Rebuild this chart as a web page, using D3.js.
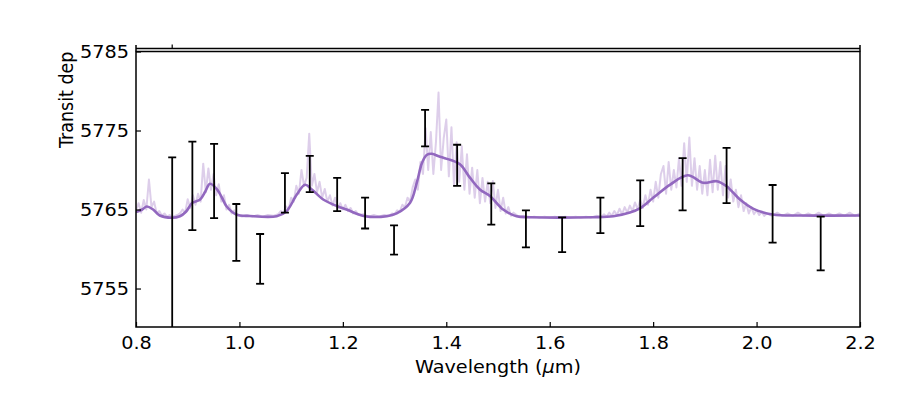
<!DOCTYPE html>
<html>
<head>
<meta charset="utf-8">
<script src="https://cdnjs.cloudflare.com/ajax/libs/d3/7.8.5/d3.min.js"></script>
<style>
  body { margin: 0; background: #fff; }
  text { font-family: "DejaVu Sans", sans-serif; fill: #000; }
</style>
</head>
<body>
<svg width="916" height="404"></svg>
<script>
/*
  transmission spectrum
  - light, noisy high-res model
  - smoothed model
  - binned data with error bars
*/

// binned data points
var binWave  = [0.870, 0.909, 0.951, 0.994, 1.040, 1.088, 1.136, 1.189, 1.243, 1.299, 1.359,
                1.421, 1.487, 1.554, 1.624, 1.698, 1.775, 1.857, 1.942, 2.031, 2.124];
var binDepth = [5758.3, 5768.0, 5768.6, 5762.1, 5758.75, 5767.1, 5769.5, 5766.9, 5764.55, 5761.15, 5775.3,
                5770.6, 5765.7, 5762.55, 5761.8, 5764.25, 5765.8, 5768.2, 5769.3, 5764.45, 5760.7];
var binErr   = [13.3, 5.6, 4.7, 3.6, 3.15, 2.5, 2.3, 2.1, 1.95, 1.85, 2.3,
                2.6, 2.6, 2.35, 2.2, 2.25, 2.9, 3.3, 3.5, 3.65, 3.4];

// smoothed model [wavelength, depth]
var model = [
  [0.800, 5764.68], [0.812, 5765.0], [0.821, 5765.38], [0.833, 5765.0], [0.846, 5764.24],
  [0.869, 5763.95], [0.885, 5764.15], [0.897, 5764.75], [0.909, 5765.85], [0.924, 5766.27],
  [0.934, 5767.28], [0.943, 5768.25], [0.957, 5767.53], [0.966, 5766.52], [0.975, 5765.42],
  [0.994, 5764.37], [1.020, 5764.18], [1.072, 5764.15], [1.091, 5764.78], [1.111, 5766.9],
  [1.127, 5768.13], [1.140, 5767.53], [1.162, 5766.27], [1.189, 5765.42], [1.207, 5765.0],
  [1.243, 5764.15], [1.285, 5764.15], [1.304, 5764.5], [1.330, 5765.85], [1.343, 5768.4],
  [1.353, 5770.9], [1.362, 5771.9], [1.372, 5772.05], [1.388, 5771.67], [1.410, 5771.24],
  [1.427, 5770.7], [1.446, 5769.0], [1.465, 5767.53], [1.485, 5766.68], [1.510, 5765.0],
  [1.536, 5764.15], [1.562, 5764.03], [1.684, 5764.03], [1.723, 5764.15], [1.755, 5764.62],
  [1.776, 5765.22], [1.800, 5766.48], [1.833, 5768.16], [1.867, 5769.34], [1.897, 5768.38],
  [1.923, 5768.58], [1.942, 5767.95], [1.968, 5766.27], [1.994, 5765.09], [2.031, 5764.37],
  [2.084, 5764.24], [2.200, 5764.24]
];

// high resolution model [wavelength, depth]
var spectrum = [
  [0.800, 5764.9], [0.805, 5765.8], [0.810, 5764.6], [0.815, 5766.2], [0.820, 5765.0], [0.825, 5768.8],
  [0.830, 5765.3], [0.835, 5766.0], [0.840, 5764.5], [0.845, 5764.8], [0.850, 5764.2], [0.855, 5764.5],
  [0.860, 5764.1], [0.865, 5764.3], [0.870, 5764.0], [0.875, 5764.2], [0.880, 5764.3], [0.885, 5764.5],
  [0.890, 5765.0], [0.895, 5764.6], [0.900, 5766.3], [0.905, 5765.2], [0.910, 5766.8], [0.915, 5765.6],
  [0.920, 5767.0], [0.925, 5766.0], [0.930, 5770.8], [0.935, 5767.2], [0.940, 5770.2], [0.945, 5767.5],
  [0.950, 5769.5], [0.955, 5766.8], [0.960, 5768.2], [0.965, 5766.0], [0.970, 5766.8], [0.975, 5765.0],
  [0.980, 5765.6], [0.985, 5764.5], [0.990, 5764.9], [0.995, 5764.3], [1.005, 5764.1], [1.015, 5764.3],
  [1.025, 5764.1], [1.035, 5764.3], [1.045, 5764.1], [1.055, 5764.3], [1.065, 5764.2], [1.075, 5764.4],
  [1.080, 5764.8], [1.085, 5764.5], [1.090, 5765.4], [1.095, 5765.0], [1.100, 5766.5], [1.105, 5766.0],
  [1.110, 5768.0], [1.115, 5767.0], [1.120, 5770.0], [1.125, 5768.0], [1.130, 5769.0], [1.135, 5774.6],
  [1.140, 5768.0], [1.145, 5769.5], [1.150, 5767.2], [1.155, 5768.5], [1.160, 5766.5], [1.165, 5767.6],
  [1.170, 5766.0], [1.175, 5766.8], [1.180, 5765.5], [1.185, 5766.5], [1.190, 5765.2], [1.195, 5765.8],
  [1.200, 5765.0], [1.205, 5765.6], [1.210, 5764.8], [1.215, 5765.2], [1.220, 5764.5], [1.225, 5764.8],
  [1.230, 5764.3], [1.240, 5764.4], [1.250, 5764.1], [1.260, 5764.3], [1.270, 5764.1], [1.280, 5764.3],
  [1.290, 5764.2], [1.295, 5764.5], [1.300, 5764.4], [1.305, 5764.9], [1.310, 5764.7], [1.315, 5765.6],
  [1.320, 5765.3], [1.325, 5766.5], [1.330, 5766.0], [1.335, 5767.8], [1.340, 5768.8], [1.345, 5767.5],
  [1.350, 5771.0], [1.355, 5769.5], [1.360, 5775.3], [1.365, 5770.0], [1.370, 5774.8], [1.375, 5769.5],
  [1.380, 5773.5], [1.385, 5779.8], [1.390, 5770.0], [1.395, 5774.0], [1.400, 5776.4], [1.405, 5769.2],
  [1.410, 5775.4], [1.415, 5768.0], [1.420, 5773.5], [1.425, 5768.5], [1.430, 5773.0], [1.435, 5767.5],
  [1.440, 5772.0], [1.445, 5767.0], [1.450, 5770.3], [1.455, 5766.5], [1.460, 5770.0], [1.465, 5765.8],
  [1.470, 5769.0], [1.475, 5766.0], [1.480, 5768.5], [1.485, 5765.8], [1.490, 5768.6], [1.495, 5765.2],
  [1.500, 5767.5], [1.505, 5764.8], [1.510, 5766.5], [1.515, 5764.5], [1.520, 5765.3], [1.525, 5764.2],
  [1.530, 5764.6], [1.540, 5764.1], [1.550, 5764.2], [1.560, 5764.0], [1.570, 5764.1], [1.580, 5764.0],
  [1.590, 5764.1], [1.600, 5764.0], [1.610, 5764.1], [1.620, 5764.0], [1.630, 5764.1], [1.640, 5764.0],
  [1.650, 5764.1], [1.660, 5764.0], [1.670, 5764.1], [1.680, 5764.0], [1.690, 5764.2], [1.700, 5764.1],
  [1.705, 5764.4], [1.710, 5764.1], [1.715, 5764.6], [1.720, 5764.2], [1.725, 5764.8], [1.730, 5764.3],
  [1.735, 5765.1], [1.740, 5764.4], [1.745, 5765.3], [1.750, 5764.6], [1.755, 5765.5], [1.760, 5764.8],
  [1.765, 5765.9], [1.770, 5765.0], [1.775, 5766.2], [1.780, 5765.2], [1.785, 5766.8], [1.790, 5765.6],
  [1.795, 5767.5], [1.800, 5766.0], [1.805, 5768.5], [1.810, 5766.5], [1.815, 5769.5], [1.820, 5770.5],
  [1.825, 5767.0], [1.830, 5771.0], [1.835, 5767.5], [1.840, 5770.0], [1.845, 5767.8], [1.850, 5771.5],
  [1.855, 5768.0], [1.860, 5773.4], [1.865, 5768.5], [1.870, 5774.1], [1.875, 5768.0], [1.880, 5771.5],
  [1.885, 5767.5], [1.890, 5770.5], [1.895, 5767.0], [1.900, 5770.0], [1.905, 5766.8], [1.910, 5771.3],
  [1.915, 5767.2], [1.920, 5771.8], [1.925, 5767.5], [1.930, 5771.0], [1.935, 5766.8], [1.940, 5770.5],
  [1.945, 5766.5], [1.950, 5768.8], [1.955, 5766.0], [1.960, 5767.5], [1.965, 5765.3], [1.970, 5766.8],
  [1.975, 5764.8], [1.980, 5765.8], [1.985, 5764.5], [1.990, 5765.3], [1.995, 5764.4], [2.000, 5764.9],
  [2.005, 5764.3], [2.010, 5764.7], [2.015, 5764.2], [2.020, 5764.5], [2.030, 5764.2], [2.040, 5764.6],
  [2.050, 5764.2], [2.060, 5764.5], [2.070, 5764.2], [2.080, 5764.6], [2.090, 5764.2], [2.100, 5764.5],
  [2.110, 5764.2], [2.120, 5764.6], [2.130, 5764.2], [2.140, 5764.5], [2.150, 5764.2], [2.160, 5764.5],
  [2.170, 5764.2], [2.180, 5764.6], [2.190, 5764.2], [2.200, 5764.5]
];

var xTicks = [0.8, 1.0, 1.2, 1.4, 1.6, 1.8, 2.0, 2.2];
var yTicks = [5755, 5765, 5775, 5785];

var svg = d3.select("svg"),
    margin = {top: 51.5, right: 56, bottom: 77, left: 136},
    width = svg.attr("width") - margin.left - margin.right,
    height = svg.attr("height") - margin.top - margin.bottom,
    chartGroup = svg.append("g").attr("transform", "translate(" + margin.left + "," + margin.top + ")");

var stretch = "scale(1.1,1)";   // text in the original is slightly wide

var xScale = d3.scaleLinear()
    .domain([0.8, 2.2])
    .range([0, width]);
var yScale = d3.scaleLinear()
    .domain([5750.13, 5785])
    .range([height, 0]);

chartGroup.append("clipPath")
    .attr("id", "plot-clip")
  .append("rect")
    .attr("width", width)
    .attr("height", height);

var plot = chartGroup.append("g").attr("clip-path", "url(#plot-clip)");

var line = d3.line()
    .x(function(d) { return xScale(d[0]); })
    .y(function(d) { return yScale(d[1]); });

// noisy high-res spectrum
plot.append("path")
    .datum(spectrum)
    .attr("d", line)
    .style("fill", "none")
    .style("stroke", "#9467bd")
    .style("stroke-opacity", 0.32)
    .style("stroke-width", 2)
    .style("stroke-linejoin", "round");

// smoothed model
plot.append("path")
    .datum(model)
    .attr("d", line.curve(d3.curveCatmullRom.alpha(0.5)))
    .style("fill", "none")
    .style("stroke", "#9268bf")
    .style("stroke-width", 2.6);

// error bars
var bins = binWave.map(function(w, i) { return {w: w, d: binDepth[i], e: binErr[i]}; });
var bar = plot.selectAll(".bin")
    .data(bins)
    .enter().append("g")
    .attr("class", "bin")
    .style("stroke", "#000")
    .style("stroke-width", 1.8);

bar.append("line")
    .attr("x1", function(d) { return xScale(d.w); })
    .attr("x2", function(d) { return xScale(d.w); })
    .attr("y1", function(d) { return yScale(d.d - d.e); })
    .attr("y2", function(d) { return yScale(d.d + d.e); });

[-1, 1].forEach(function(s) {
  bar.append("line")
      .attr("x1", function(d) { return xScale(d.w) - 4; })
      .attr("x2", function(d) { return xScale(d.w) + 4; })
      .attr("y1", function(d) { return yScale(d.d + s * d.e); })
      .attr("y2", function(d) { return yScale(d.d + s * d.e); });
});

// axes
var xAxis = chartGroup.append("g")
    .attr("transform", "translate(0," + height + ")")
    .call(d3.axisBottom(xScale).tickValues(xTicks).tickFormat(d3.format(".1f"))
      .tickSizeInner(-5).tickSizeOuter(0).tickPadding(10));

var yAxis = chartGroup.append("g")
    .call(d3.axisLeft(yScale).tickValues(yTicks).tickFormat(d3.format("d"))
      .tickSizeInner(-5).tickSizeOuter(0).tickPadding(6.4));

[xAxis, yAxis].forEach(function(ax) {
  ax.select(".domain").remove();
  ax.selectAll("line").style("stroke", "#000").style("stroke-width", 1.2);
  ax.selectAll("text")
      .style("font-size", "17.5px")
      .style("font-family", "'DejaVu Sans', sans-serif")
      .attr("transform", stretch);
});

// frame, plus the edge of the panel above
chartGroup.append("rect")
    .attr("width", width)
    .attr("height", height)
    .style("fill", "none")
    .style("stroke", "#000")
    .style("stroke-width", 1.5);

var upper = chartGroup.append("g").style("stroke", "#000").style("stroke-width", 1.5);
upper.append("line").attr("x1", 0).attr("x2", width).attr("y1", -3).attr("y2", -3);
upper.append("line").attr("x1", 0).attr("x2", 0).attr("y1", -6.5).attr("y2", 0);
upper.append("line").attr("x1", width).attr("x2", width).attr("y1", -6.5).attr("y2", 0);
upper.append("line")
    .attr("x1", xScale(binWave[0])).attr("x2", xScale(binWave[0]))
    .attr("y1", -7).attr("y2", -3)
    .style("stroke-width", 1.2);

// axis labels
svg.append("text")
    .attr("transform", "translate(" + (margin.left + width / 2) + ",373)" + stretch)
    .attr("text-anchor", "middle")
    .style("font-size", "17.5px")
    .html("Wavelength (<tspan font-style='italic'>μ</tspan>m)");

svg.append("text")
    .attr("transform", "translate(73,148) rotate(-90) scale(1,1.1)")
    .attr("text-anchor", "start")
    .style("font-size", "17.5px")
    .text("Transit dep");
</script>
</body>
</html>
